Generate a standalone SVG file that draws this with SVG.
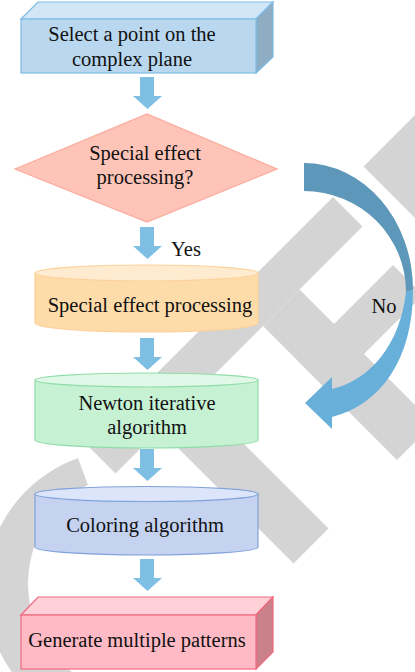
<svg xmlns="http://www.w3.org/2000/svg" xmlns:xlink="http://www.w3.org/1999/xlink" width="415" height="672" viewBox="0 0 415 672">
  <style>
    .t { font-family: "Liberation Serif", "Times New Roman", serif; font-size: 20.5px; fill: #111; text-anchor: middle; }
    .wm { fill: #d4d4d4; }
    .down { fill: #7fbfe3; }
  </style>
  <defs>
    <path id="darr" d="M7,0 H21 V19 H29 L14.5,32 L0,19 H7 Z"/>
  </defs>
  <rect width="415" height="672" fill="#ffffff"/>

  <g id="watermark">
    <polygon class="wm" points="86,444 333,197 362.5,226.5 115.5,473.5"/>
    <polygon class="wm" points="363.5,166.5 515,15 625,125 473.5,276.5"/>
    <polygon class="wm" points="297.5,360.5 393,265 423,295 327.5,390.5"/>
    <polygon class="wm" points="159.5,429.5 194.5,394.5 328.5,528.5 293.5,563.5"/>
    <polygon class="wm" points="263,326 299.5,289.5 433.5,423.5 397,460"/>
    <path class="wm" d="M78,458 A140,140 0 0 0 140,729 L167,691 A111,111 0 0 1 88,485 Z"/>
  </g>

  <g id="connectors">
    <use href="#darr" class="down" x="133" y="77"/>
    <use href="#darr" class="down" x="133" y="227"/>
    <use href="#darr" class="down" x="133" y="338"/>
    <use href="#darr" class="down" x="133" y="449"/>
    <use href="#darr" class="down" x="133" y="559"/>
    <text class="t" x="186" y="256">Yes</text>
    <path d="M304,163 A109,127 0 0 1 413,290 L406,292 A102,101 0 0 0 304,191 Z" fill="#5d97b9"/>
    <path d="M413,290 C413,360 380,405 332,417 L332,429 L305,403 L332,377 L332,389 C370,380 400,345 406,292 Z" fill="#68b0da"/>
    <text class="t" x="384" y="313">No</text>
  </g>

  <g id="n1">
    <polygon points="21,19 38,2 273,2 256,19" fill="#d1e6f6" stroke="#7fbbe3" stroke-width="1.2"/>
    <polygon points="256,19 273,2 273,57 256,73" fill="#8eadc3" stroke="#7fbbe3" stroke-width="1.2"/>
    <rect x="21" y="19" width="235" height="54" fill="#b9d8f0" stroke="#7fbbe3" stroke-width="1.2"/>
    <text class="t" x="132" y="41">Select a point on the</text>
    <text class="t" x="132" y="66">complex plane</text>
  </g>

  <g id="n2">
    <polygon points="15,169 147,114 277,169 147,222" fill="#fec4b8" stroke="#fbab9b" stroke-width="1.2"/>
    <text class="t" x="145" y="160">Special effect</text>
    <text class="t" x="145" y="184">processing?</text>
  </g>

  <g id="n3">
    <path d="M35,273 V323 A111.5,9 0 0 0 258,323 V273 Z" fill="#fedcaa" stroke="#fdd19b" stroke-width="1.2"/>
    <ellipse cx="146.5" cy="273" rx="111.5" ry="8" fill="#feebd0" stroke="#fdd19b" stroke-width="1.2"/>
    <text class="t" x="150" y="312">Special effect processing</text>
  </g>

  <g id="n4">
    <path d="M35,380 V440 A111.5,8 0 0 0 258,440 V380 Z" fill="#c6f1d3" stroke="#90dca8" stroke-width="1.2"/>
    <ellipse cx="146.5" cy="380" rx="111.5" ry="7" fill="#e0f8e8" stroke="#90dca8" stroke-width="1.2"/>
    <text class="t" x="147" y="410">Newton iterative</text>
    <text class="t" x="147" y="434">algorithm</text>
  </g>

  <g id="n5">
    <path d="M35,494 V547 A111.5,8 0 0 0 258,547 V494 Z" fill="#c5d3f1" stroke="#81a2da" stroke-width="1.2"/>
    <ellipse cx="146.5" cy="494" rx="111.5" ry="7.5" fill="#dce5f9" stroke="#81a2da" stroke-width="1.2"/>
    <text class="t" x="145" y="532">Coloring algorithm</text>
  </g>

  <g id="n6">
    <polygon points="21,615 38,597 273,597 256,615" fill="#ffd0d7" stroke="#f0697e" stroke-width="1.2"/>
    <polygon points="256,615 273,597 273,652 256,669" fill="#cb8189" stroke="#f0697e" stroke-width="1.2"/>
    <rect x="21" y="615" width="235" height="54" fill="#ffbac5" stroke="#f0697e" stroke-width="1.2"/>
    <text class="t" x="137" y="647">Generate multiple patterns</text>
  </g>
</svg>
